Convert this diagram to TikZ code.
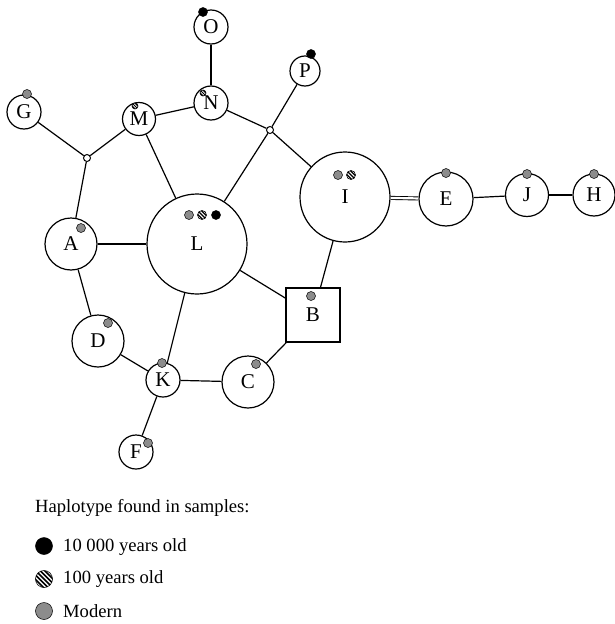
\documentclass[tikz,border=0pt]{standalone}
\usepackage{fontspec}
\setmainfont{Liberation Serif}
\begin{document}
\begin{tikzpicture}[x=1pt,y=-1pt,
  hap/.style={circle, draw, line width=1.2pt, fill=white, inner sep=0pt,
    minimum size=#1, font=\fontsize{21}{21}\selectfont},
  hapsq/.style={rectangle, draw, line width=1.2pt, fill=white, inner sep=0pt,
    minimum size=#1, font=\fontsize{21}{21}\selectfont},
  junc/.style={circle, draw, line width=1pt, fill=white, inner sep=0pt, minimum size=7pt},
  link/.style={line width=1.2pt},
  duallink/.style={line width=0.9pt, double, double distance=2.2pt},
  moddot/.style={circle, draw, line width=0.5pt, fill=black!45, inner sep=0pt, minimum size=#1},
  olddot/.style={circle, draw, line width=0.5pt, fill=black, inner sep=0pt, minimum size=#1},
  hatchdot/.style 2 args={circle, draw, line width=0.6pt, fill=white, inner sep=0pt,
    minimum size=#1,
    path picture={
      \foreach \k in {-4,...,4}
        \draw[line width=0.5*#2]
          ([xshift=\k*#2*1.414pt] path picture bounding box.center)
          ++(-15pt,15pt) -- ++(30pt,-30pt);
    }},
  legtext/.style={anchor=west, inner sep=0pt, font=\fontsize{18.6}{18.6}\selectfont}
]
\useasboundingbox (0,0) rectangle (614,624);

% haplotype nodes
\node[hap=34]  (O) at (211,27)  {O};
\node[hap=30]  (P) at (305,71)  {P};
\node[hap=34]  (G) at (24,112)  {G};
\node[hap=33]  (M) at (139,119) {M};
\node[hap=34]  (N) at (211,103) {N};
\node[hap=90]  (I) at (345,197) {I};
\node[hap=54]  (E) at (446,199) {E};
\node[hap=43]  (J) at (527,195) {J};
\node[hap=42]  (H) at (594,195) {H};
\node[hap=52]  (A) at (71,244)  {A};
\node[hap=100] (L) at (197,244) {L};
\node[hapsq=54] (B) at (313,315) {B};
\node[hap=52]  (D) at (98,341)  {D};
\node[hap=34]  (K) at (163,380) {K};
\node[hap=52]  (C) at (248,382) {C};
\node[hap=34]  (F) at (136,452) {F};

% unsampled intermediate haplotypes
\node[junc] (j1) at (87,158) {};
\node[junc] (j2) at (270,130) {};

% mutational links
\draw[link] (O) -- (N);
\draw[link] (N) -- (M);
\draw[link] (N) -- (j2);
\draw[link] (P) -- (j2);
\draw[link] (j2) -- (I);
\draw[link] (j2) -- (L);
\draw[link] (M) -- (j1);
\draw[link] (G) -- (j1);
\draw[link] (j1) -- (A);
\draw[link] (M) -- (L);
\draw[link] (A) -- (L);
\draw[link] (A) -- (D);
\draw[link] (D) -- (K);
\draw[link] (K) -- (L);
\draw[link] (K) -- (C);
\draw[link] (K) -- (F);
\draw[link] (C) -- (B);
\draw[link] (B) -- (L);
\draw[link] (B) -- (I);
\draw[duallink] (I) -- (E);
\draw[link] (E) -- (J);
\draw[link] (J) -- (H);

% sample markers
\node[olddot=9]  (oO) at (203,12)  {};
\node[olddot=9]  (oP) at (311,54)  {};
\node[moddot=9]  (mG) at (27,94)   {};
\node[hatchdot={6}{2}] (hM) at (135,106) {};
\node[hatchdot={6}{2}] (hN) at (203,93)  {};
\node[moddot=9]  (mI) at (338,175) {};
\node[hatchdot={9}{2.6}] (hI) at (351,175) {};
\node[moddot=9]  (mE) at (446,173) {};
\node[moddot=9]  (mJ) at (527,174) {};
\node[moddot=9]  (mH) at (594,174) {};
\node[moddot=9]  (mA) at (81,228)  {};
\node[moddot=9]  (mL) at (189,215) {};
\node[hatchdot={9}{2.6}] (hL) at (202,215) {};
\node[olddot=9]  (oL) at (216,215) {};
\node[moddot=9]  (mB) at (311,296) {};
\node[moddot=9]  (mD) at (108,323) {};
\node[moddot=9]  (mK) at (162,363) {};
\node[moddot=9]  (mC) at (256,364) {};
\node[moddot=9]  (mF) at (148,443) {};

% legend
\node[legtext] (legtitle) at (35,508) {Haplotype found in samples:};
\node[olddot=17] (leg1) at (44,546) {};
\node[hatchdot={17}{3.2}] (leg2) at (44,579) {};
\node[moddot=17] (leg3) at (44,611) {};
\node[legtext] (legt1) at (63,547) {10 000 years old};
\node[legtext] (legt2) at (63,579) {100 years old};
\node[legtext] (legt3) at (63,611) {Modern};
\end{tikzpicture}
\end{document}
